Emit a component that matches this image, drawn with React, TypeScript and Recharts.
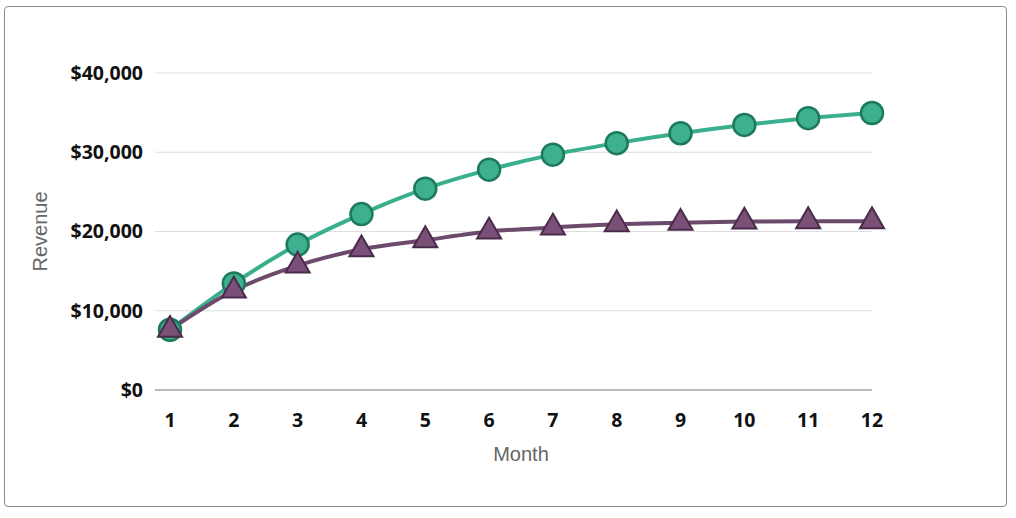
import React from 'react';
import { LineChart, Line, XAxis, YAxis, CartesianGrid, Symbols } from 'recharts';

const months = [1, 2, 3, 4, 5, 6, 7, 8, 9, 10, 11, 12];
const seriesA = [7600, 13450, 18350, 22200, 25400, 27800, 29700, 31150, 32400, 33450, 34300, 34950];
const seriesB = [7600, 12550, 15700, 17750, 18900, 20000, 20500, 20900, 21100, 21250, 21300, 21300];
const yTicks = [0, 10000, 20000, 30000, 40000];

const data = months.map((m, i) => ({ month: m, a: seriesA[i], b: seriesB[i] }));

const fmt = (v: number) => '$' + v.toLocaleString('en-US');

const TriangleDot = (props: any) => {
  const { cx, cy, index } = props;
  if (cx == null || cy == null) return null;
  return (
    <Symbols
      key={'tri-' + index}
      cx={cx}
      cy={cy}
      type="triangle"
      size={250}
      fill="#7a5079"
      stroke="#4a2b4a"
      strokeWidth={2}
    />
  );
};

const YLabel = (props: any) => {
  const vb = props.viewBox || {};
  const cy = vb.y + vb.height / 2;
  const cx = 40;
  return (
    <text
      x={cx}
      y={cy}
      transform={`rotate(-90 ${cx} ${cy})`}
      textAnchor="middle"
      dominantBaseline="central"
      fill="#666"
      fontSize={20}
      fontFamily="'Liberation Sans', Arial, sans-serif"
    >
      Revenue
    </text>
  );
};

const XLabel = (props: any) => {
  const vb = props.viewBox || {};
  const cx = vb.x + 15 + (vb.width - 15) / 2;
  return (
    <text
      x={cx}
      y={454}
      textAnchor="middle"
      dominantBaseline="central"
      fill="#666"
      fontSize={20}
      fontFamily="'Liberation Sans', Arial, sans-serif"
    >
      Month
    </text>
  );
};

export default function App() {
  return (
    <div style={{ position: 'absolute', left: 0, top: 0, width: 1016, height: 518, background: '#fff' }}>
      <div
        style={{
          position: 'absolute',
          left: 4,
          top: 6,
          width: 1001,
          height: 499,
          border: '1.5px solid #8a8a8a',
          borderRadius: 4,
          boxSizing: 'content-box',
        }}
      />
      <div style={{ position: 'absolute', left: 0, top: 0 }}>
        <LineChart
          width={1016}
          height={518}
          data={data}
          margin={{ top: 73, right: 144, bottom: 68, left: 0 }}
        >
          <CartesianGrid vertical={false} stroke="#dedede" strokeWidth={1} />
          <XAxis
            dataKey="month"
            type="category"
            padding={{ left: 15, right: 0 }}
            height={60}
            axisLine={{ stroke: '#a8a8a8', strokeWidth: 1.5 }}
            tickLine={false}
            tickSize={6}
            tickMargin={17}
            tick={{ fill: '#111', fontSize: 19.5, fontWeight: 700, fontFamily: "'Open Sans', sans-serif" }}
            interval={0}
            label={<XLabel />}
          />
          <YAxis
            width={155}
            domain={[0, 40000]}
            ticks={yTicks}
            tickFormatter={fmt}
            axisLine={false}
            tickLine={false}
            tickSize={6}
            tickMargin={6}
            tick={{ fill: '#111', fontSize: 19.5, fontWeight: 700, fontFamily: "'Open Sans', sans-serif" }}
            label={<YLabel />}
          />
          <Line
            dataKey="a"
            type="monotone"
            stroke="#3aaf8e"
            strokeWidth={4}
            dot={{ r: 11, fill: '#3cb08f', stroke: '#1d7a5c', strokeWidth: 2.5 }}
            isAnimationActive={false}
          />
          <Line
            dataKey="b"
            type="monotone"
            stroke="#6b4a6b"
            strokeWidth={4}
            dot={<TriangleDot />}
            isAnimationActive={false}
          />
        </LineChart>
      </div>
    </div>
  );
}
